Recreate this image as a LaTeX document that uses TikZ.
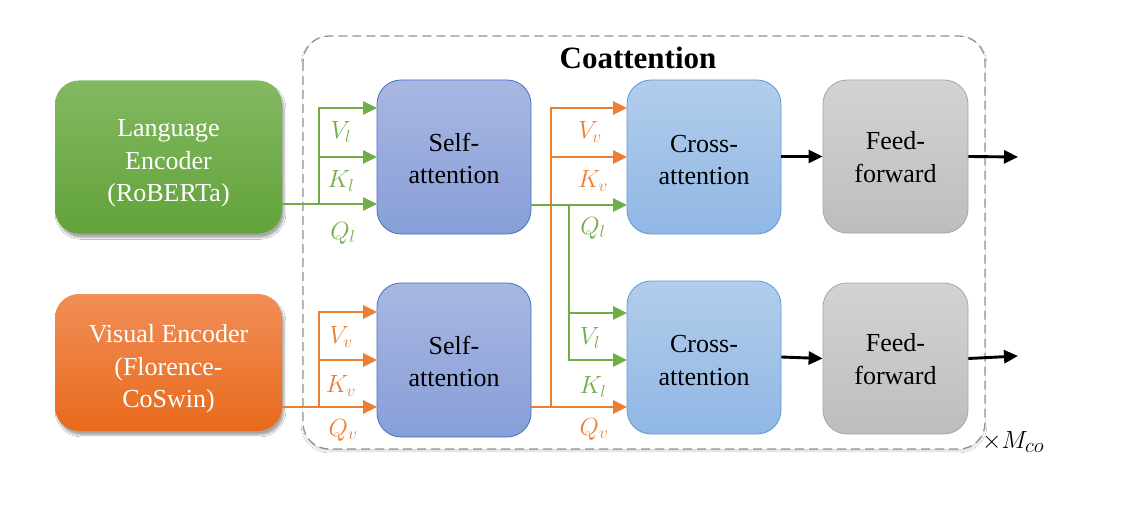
\documentclass[tikz,border=0pt]{standalone}
\usepackage{fontspec}
\setmainfont{Liberation Serif}
\usetikzlibrary{arrows.meta,shadows.blur,calc}
\definecolor{cgreen}{HTML}{70AD47}
\definecolor{corange}{HTML}{ED7D31}
\definecolor{gtop}{HTML}{83B961}
\definecolor{gbot}{HTML}{62A23A}
\definecolor{otop}{HTML}{F18E57}
\definecolor{obot}{HTML}{E86A1C}
\definecolor{btop}{HTML}{A9B7E2}
\definecolor{bbot}{HTML}{879ED8}
\definecolor{bline}{HTML}{4472C4}
\definecolor{ctop}{HTML}{B2CDEB}
\definecolor{cbot}{HTML}{90B7E5}
\definecolor{cline}{HTML}{5B9BD5}
\definecolor{ftop}{HTML}{D3D3D3}
\definecolor{fbot}{HTML}{BDBDBD}
\definecolor{fline}{HTML}{A5A5A5}
\newcommand\boxtxt[2]{\raisebox{-#1pt}[\height][\depth]{\begin{tabular}{@{}c@{}}#2\end{tabular}}}
\tikzset{
  box/.style={rounded corners=24pt, inner sep=0pt, align=center,
    font=\fontsize{26}{32.5}\selectfont, line width=0.8pt},
  encg/.style={box, top color=gtop, bottom color=gbot, draw=none, text=white,
    blur shadow={shadow xshift=2pt, shadow yshift=-4pt, shadow blur steps=6, shadow opacity=35}},
  enco/.style={box, top color=otop, bottom color=obot, draw=none, text=white,
    blur shadow={shadow xshift=2pt, shadow yshift=-4pt, shadow blur steps=6, shadow opacity=35}},
  selfbox/.style={box, top color=btop, bottom color=bbot, draw=bline},
  crossbox/.style={box, top color=ctop, bottom color=cbot, draw=cline},
  ffbox/.style={box, top color=ftop, bottom color=fbot, draw=fline},
  tip/.style={-{Triangle[length=14pt,width=13pt]}},
  garr/.style={draw=cgreen, line width=2.9pt},
  oarr/.style={draw=corange, line width=2.9pt},
  karr/.style={draw=black, line width=2.9pt},
  glab/.style={text=cgreen, font=\fontsize{25}{30}\selectfont, inner sep=0pt},
  olab/.style={text=corange, font=\fontsize{25}{30}\selectfont, inner sep=0pt},
}
\begin{document}
\begin{tikzpicture}[x=1pt,y=-1pt]
\useasboundingbox (0,0) rectangle (1124,513);
\fill[white] (0,0) rectangle (1124,513);
% frame
\path[draw=gray!85, dashed, dash pattern=on 9pt off 5pt, line width=1.3pt, rounded corners=26pt,
  blur shadow={shadow xshift=0pt, shadow yshift=-2pt, shadow blur steps=10, shadow blur extra rounding=4pt, shadow opacity=18}, fill=white]
  (303,36) rectangle (985,449);
\node[font=\bfseries\fontsize{31}{36}\selectfont, inner sep=0pt] (title) at (638,58) {Coattention};

% nodes
\node[encg, minimum width=227pt, minimum height=153pt] (LE) at (168.5,157) {\boxtxt{6}{Language\\Encoder\\(RoBERTa)}};
\node[enco, minimum width=227pt, minimum height=137pt] (VE) at (168.5,362.5) {\boxtxt{6}{Visual Encoder\\(Florence-\\CoSwin)}};
\node[selfbox, minimum width=154pt, minimum height=154pt] (SA1) at (454,157) {\boxtxt{4}{Self-\\attention}};
\node[selfbox, minimum width=154pt, minimum height=154pt] (SA2) at (454,360) {\boxtxt{4}{Self-\\attention}};
\node[crossbox, minimum width=154pt, minimum height=154pt] (CA1) at (704,157) {\boxtxt{5}{Cross-\\attention}};
\node[crossbox, minimum width=154pt, minimum height=153pt] (CA2) at (704,357.5) {\boxtxt{5}{Cross-\\attention}};
\node[ffbox, minimum width=145pt, minimum height=153pt] (FF1) at (895.5,156.5) {\boxtxt{3}{Feed-\\forward}};
\node[ffbox, minimum width=145pt, minimum height=151pt] (FF2) at (895.5,358.5) {\boxtxt{3}{Feed-\\forward}};

% coordinates
\coordinate (a1v) at (377,108);
\coordinate (a1k) at (377,157);
\coordinate (a1q) at (377,204);
\coordinate (b1) at (319,204);
\coordinate (a2v) at (377,312);
\coordinate (a2k) at (377,360);
\coordinate (a2q) at (377,407);
\coordinate (b2) at (319,407);
\coordinate (c1v) at (627,108);
\coordinate (c1k) at (627,157);
\coordinate (c1q) at (627,205);
\coordinate (c2v) at (627,313);
\coordinate (c2k) at (627,360);
\coordinate (c2q) at (627,407);
\coordinate (gx) at (569,205);
\coordinate (ox) at (551,407);
\coordinate (out1) at (1018,157);
\coordinate (out2) at (1018,356);

% language branch
\draw[garr,tip] (LE.east |- a1q) -- (a1q);
\draw[garr,tip] (b1) |- (a1v);
\draw[garr,tip] (b1 |- a1k) -- (a1k);
% visual branch
\draw[oarr,tip] (VE.east |- a2q) -- (a2q);
\draw[oarr,tip] (b2) |- (a2v);
\draw[oarr,tip] (b2 |- a2k) -- (a2k);
% orange to cross top
\draw[oarr,tip] (SA2.east |- c2q) -- (c2q);
\draw[oarr,tip] (ox) |- (c1v);
\draw[oarr,tip] (ox |- c1k) -- (c1k);
% green to cross
\draw[garr,tip] (SA1.east |- c1q) -- (c1q);
\draw[garr,tip] (gx) |- (c2k);
\draw[garr,tip] (gx |- c2v) -- (c2v);
% black
\draw[karr,tip] (CA1.east |- FF1.west) -- (FF1.west);
\draw[karr,tip] (FF1.east) -- (out1);
\draw[karr,tip] (CA2.east |- 0,357) -- (FF2.west);
\draw[karr,tip] (FF2.east) -- (out2);

% labels
\node[glab] (lv1) at (341,132) {$V_l$};
\node[glab] (lk1) at (341,181) {$K_l$};
\node[glab] (lq1) at (343,233) {$Q_l$};
\node[olab] (lv2) at (341,337) {$V_v$};
\node[olab] (lk2) at (341,386) {$K_v$};
\node[olab] (lq2) at (343,430) {$Q_v$};
\node[olab] (cv1) at (590,132) {$V_v$};
\node[olab] (ck1) at (593,181) {$K_v$};
\node[glab] (cq1) at (593,228) {$Q_l$};
\node[glab] (cv2) at (590,338) {$V_l$};
\node[glab] (ck2) at (593,387) {$K_l$};
\node[olab] (cq2) at (594,429) {$Q_v$};
\node[font=\fontsize{28}{32}\selectfont, inner sep=0pt, anchor=west] (mco) at (982,442) {$\times M_{co}$};
\end{tikzpicture}
\end{document}
